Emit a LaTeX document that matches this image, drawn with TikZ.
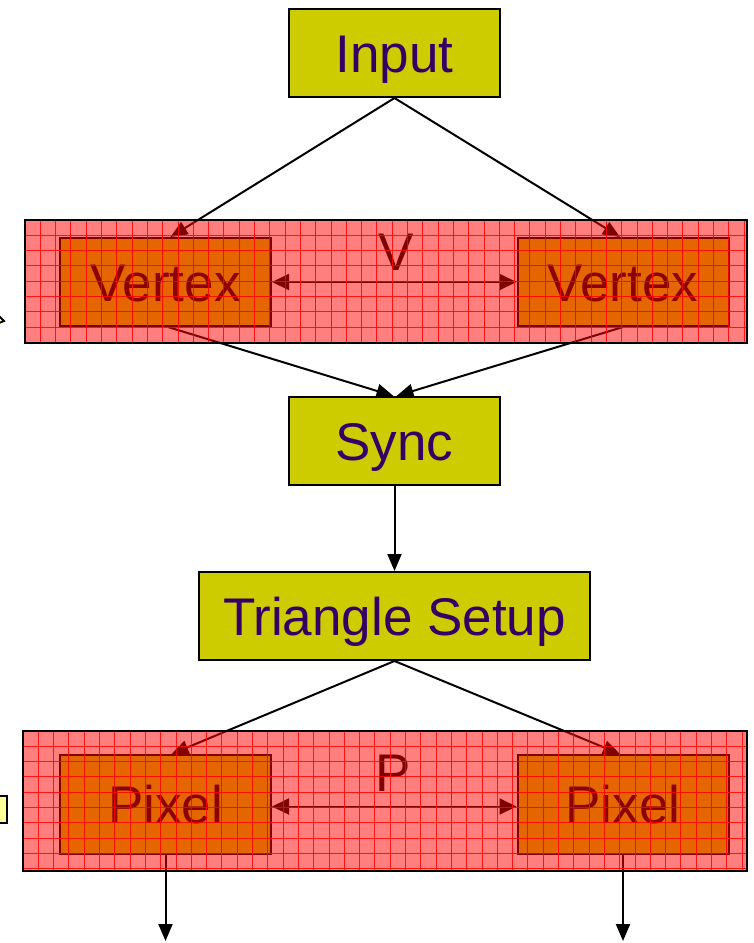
\documentclass[tikz,border=0pt]{standalone}
\usepackage{fontspec}
\setmainfont{Liberation Sans}
\usetikzlibrary{arrows.meta}

\definecolor{stagefill}{RGB}{204,204,0}
\definecolor{stageink}{RGB}{51,0,102}
\definecolor{unitink}{RGB}{25,0,0}
\definecolor{notefill}{RGB}{255,255,153}
\newcommand\stagefont{\fontsize{53pt}{60pt}\selectfont}

\tikzset{
  stage/.style={draw=black, line width=2pt, fill=stagefill, text=stageink,
    minimum width=211pt, minimum height=88pt, inner sep=0pt,
    text height=38pt, text depth=0pt, font=\stagefont},
  unit/.style={stage, text=unitink},
  tag/.style={inner sep=0pt, text height=38pt, text depth=0pt, font=\stagefont},
  flow/.style={-{Triangle[length=17pt,width=14pt]}, line width=2pt},
  link/.style={{Triangle[length=17pt,width=16pt]}-{Triangle[length=17pt,width=16pt]}, line width=2pt},
  gridline/.style={draw=red, draw opacity=0.85, line width=0.9pt},
  % translucent red bank with a fine grid over the units it groups
  bank/.style={draw=black, line width=2.5pt, fill=red, fill opacity=0.5,
    inner sep=0pt,
    path picture={
      \foreach \k in {1,...,48}{
        \draw[gridline]
          ([xshift=\k*15.3pt]path picture bounding box.north west) --
          ([xshift=\k*15.3pt]path picture bounding box.south west);
      }
      \foreach \k in {1,...,10}{
        \draw[gridline]
          ([yshift=-\k*15.3pt]path picture bounding box.north west) --
          ([yshift=-\k*15.3pt]path picture bounding box.north east);
      }
    }},
  note/.style={draw=black, line width=1.8pt, fill=notefill}
}

\begin{document}
\begin{tikzpicture}[x=1pt, y=-1pt]
  \useasboundingbox (0,0) rectangle (754,943);
  \clip (0,0) rectangle (754,943);

  % pipeline stages
  \node[stage] (input) at (394.5,53) {Input};
  \node[unit] (vl) at (165.5,282) {Vertex};
  \node[unit] (vr) at (623,282) {Vertex};
  \node[stage] (sync) at (394.5,441) {Sync};
  \node[stage, minimum width=391pt] (tri) at (394.5,616) {Triangle Setup};
  \node[unit, minimum height=99pt] (pl) at (165.5,804.5) {Pixel};
  \node[unit, minimum height=99pt] (pr) at (623,804.5) {Pixel};

  % partly visible notes at the left edge
  \node[note, minimum width=40pt, minimum height=27pt] (pnote) at (-13,809.5) {};
  \draw[note] (-8,309) -- (4,321) -- (-8,326) -- cycle;

  % free ends of the output arrows
  \coordinate (outl) at (165.5,941);
  \coordinate (outr) at (623,941);

  % connectors
  \draw[flow] (input.south) -- ([xshift=5pt]vl.north);
  \draw[flow] (input.south) -- ([xshift=-3pt]vr.north);
  \draw[flow] ([xshift=2.5pt]vl.south) -- ([xshift=-1pt]sync.north);
  \draw[flow] (vr.south) -- ([xshift=2pt]sync.north);
  \draw[flow] (sync.south) -- (tri.north);
  \draw[flow] (tri.south) -- ([xshift=6pt]pl.north);
  \draw[flow] (tri.south) -- ([xshift=-3pt]pr.north);
  \draw[flow] (pl.south) -- (outl);
  \draw[flow] (pr.south) -- (outr);
  \draw[link] (vl.east) -- (vr.west);
  \draw[link] ([yshift=-2pt]pl.east) -- ([yshift=-2pt]pr.west);

  % bank labels
  \node[tag] (vlabel) at (396,251) {V};
  \node[tag] (plabel) at (393,772) {P};

  % translucent banks over the parallel units
  \node[bank, minimum width=722pt, minimum height=123pt] (vbank) at (386,281.5) {};
  \node[bank, minimum width=724pt, minimum height=140pt] (pbank) at (385,801) {};
\end{tikzpicture}
\end{document}
